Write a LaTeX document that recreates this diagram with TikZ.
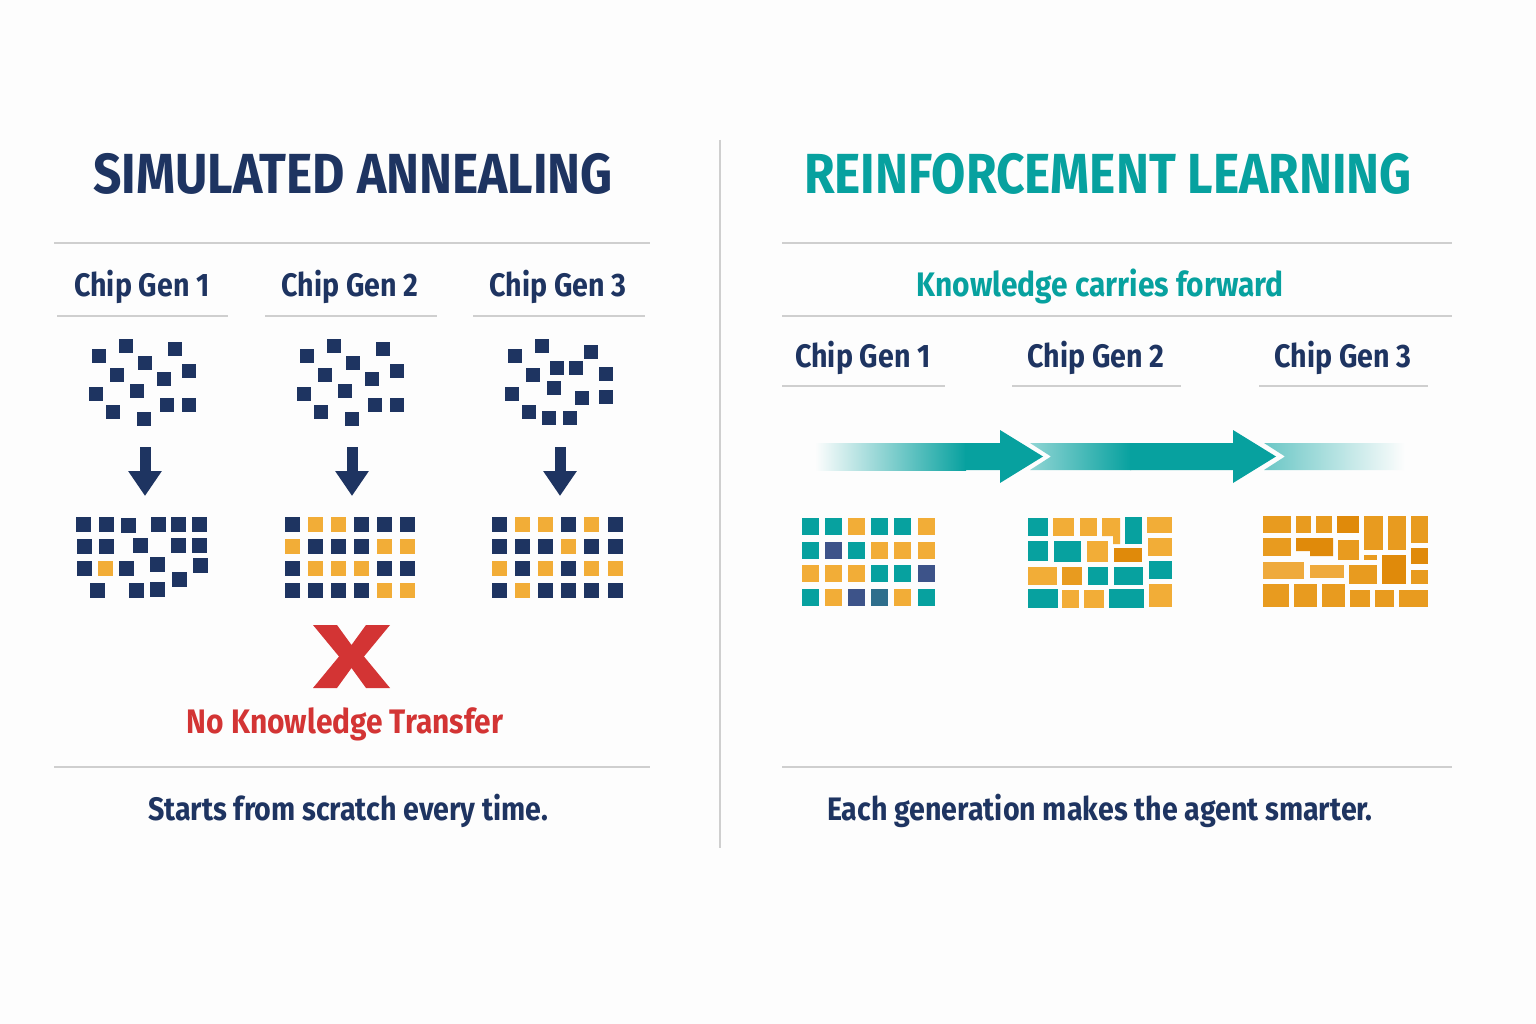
\documentclass[tikz,border=0pt]{standalone}
\usepackage{fontspec}
\setmainfont{Fira Sans}[FakeStretch=0.88]
\usetikzlibrary{arrows.meta}
\definecolor{ChipNavy}{HTML}{1E3461}
\definecolor{ChipGold}{HTML}{F2AD37}
\definecolor{ChipTeal}{HTML}{07A19F}
\definecolor{ChipSlate}{HTML}{3D5389}
\definecolor{ChipSteel}{HTML}{2E6E8C}
\definecolor{ChipOrange}{HTML}{E08A0A}
\definecolor{ChipAmber}{HTML}{E89B1F}
\definecolor{ChipSand}{HTML}{EFAA3C}
\definecolor{NoRed}{HTML}{D33434}
\definecolor{RuleGray}{HTML}{CFCFCF}
\definecolor{PageWhite}{HTML}{FDFDFD}

\begin{document}
\begin{tikzpicture}[x=1pt,y=-1pt,
  headline/.style={font=\bfseries\fontsize{56.5}{60}\selectfont,anchor=base},
  genlabel/.style={font=\bfseries\fontsize{32.5}{36}\selectfont,text=ChipNavy,anchor=base},
  notelabel/.style={font=\bfseries\fontsize{34}{36}\selectfont,anchor=base},
  caption/.style={font=\bfseries\fontsize{32.5}{35}\selectfont,text=ChipNavy,anchor=base},
  rule/.style={draw=RuleGray,line width=1.5pt},
  downarrow/.style={draw=ChipNavy,line width=11pt,-{Triangle[length=25pt,width=32pt]}}]
  \fill[PageWhite] (0,0) rectangle (1536,1024);
  \useasboundingbox (0,0) rectangle (1536,1024);

  % divider
  \draw[draw=RuleGray,line width=1.5pt] (720,140) -- (720,848);

  % simulated annealing side
  \node[headline,text=ChipNavy] (satitle) at (353,194) {SIMULATED ANNEALING};
  \draw[rule] (54,243) -- (650,243);
  \node[genlabel] (sagen1) at (142,296) {Chip Gen 1};
  \node[genlabel] (sagen2) at (350,296) {Chip Gen 2};
  \node[genlabel] (sagen3) at (558,296) {Chip Gen 3};
  \draw[rule] (57,316) -- (228,316);
  \draw[rule] (265,316) -- (437,316);
  \draw[rule] (473,316) -- (645,316);

  % random start, gens 1 and 2
  \foreach \dx in {0,208}
    \foreach \x/\y in {99/356,126/346,175/349,145/363,117/375,164/379,189/371,
                       96/394,137/391,167/405,189/405,113/412,144/419}
      \fill[ChipNavy] (\x+\dx-7,\y-7) rectangle ++(14,14);
  % random start, gen 3
  \foreach \x/\y in {515/356,542/346,591/352,533/375,557/368,576/368,606/374,
                     512/394,554/388,582/398,606/397,529/412,549/418,570/418}
    \fill[ChipNavy] (\x-7,\y-7) rectangle ++(14,14);

  \foreach \i/\x in {1/145,2/352,3/560}{
    \coordinate (sastart\i) at (\x,447);
    \coordinate (saend\i) at (\x,496);
    \draw[downarrow] (sastart\i) -- (saend\i);
  }

  % placements
  \foreach \x/\y/\c in {83/524/ChipNavy,106/524/ChipNavy,128/525/ChipNavy,158/524/ChipNavy,
      178/524/ChipNavy,199/524/ChipNavy,84/546/ChipNavy,106/546/ChipNavy,140/545/ChipNavy,
      178/545/ChipNavy,199/545/ChipNavy,84/568/ChipNavy,105/568/ChipGold,126/568/ChipNavy,
      157/564/ChipNavy,200/565/ChipNavy,97/590/ChipNavy,136/590/ChipNavy,157/589/ChipNavy,
      179/579/ChipNavy}
    \fill[\c] (\x-7.5,\y-7.5) rectangle ++(15,15);
  \foreach \y/\row in {524/{ChipNavy,ChipGold,ChipGold,ChipNavy,ChipNavy,ChipNavy},
                       546/{ChipGold,ChipNavy,ChipNavy,ChipNavy,ChipGold,ChipGold},
                       568/{ChipNavy,ChipGold,ChipGold,ChipGold,ChipNavy,ChipNavy},
                       590/{ChipNavy,ChipNavy,ChipNavy,ChipNavy,ChipGold,ChipGold}}
    \foreach \c [count=\k from 0] in \row
      \fill[\c] (292+23*\k-7.5,\y-7.5) rectangle ++(15,15);
  \foreach \y/\row in {524/{ChipNavy,ChipGold,ChipGold,ChipNavy,ChipGold,ChipNavy},
                       546/{ChipNavy,ChipNavy,ChipNavy,ChipGold,ChipNavy,ChipNavy},
                       568/{ChipGold,ChipNavy,ChipGold,ChipNavy,ChipGold,ChipGold},
                       590/{ChipNavy,ChipGold,ChipNavy,ChipNavy,ChipNavy,ChipNavy}}
    \foreach \c [count=\k from 0] in \row
      \fill[\c] (499+23.2*\k-7.5,\y-7.5) rectangle ++(15,15);

  % no transfer mark
  \fill[NoRed] (313,625) -- (337,625) -- (351.5,645) -- (366,625) -- (390,625) -- (364,656.5)
    -- (390,688) -- (366,688) -- (351.5,668) -- (337,688) -- (313,688) -- (339,656.5) -- cycle;
  \node[notelabel,text=NoRed] (notransfer) at (345,733) {No Knowledge Transfer};

  \draw[rule] (54,767) -- (650,767);
  \node[caption] (sacaption) at (348,820) {Starts from scratch every time.};

  % reinforcement learning side
  \node[headline,text=ChipTeal] (rltitle) at (1108,194) {REINFORCEMENT LEARNING};
  \draw[rule] (782,243) -- (1452,243);
  \node[notelabel,text=ChipTeal] (carry) at (1100,297) {Knowledge carries forward};
  \draw[rule] (782,316) -- (1452,316);
  \node[genlabel] (rlgen1) at (863,367) {Chip Gen 1};
  \node[genlabel] (rlgen2) at (1096,367) {Chip Gen 2};
  \node[genlabel] (rlgen3) at (1343,367) {Chip Gen 3};
  \draw[rule] (782,386) -- (945,386);
  \draw[rule] (1012,386) -- (1181,386);
  \draw[rule] (1259,386) -- (1428,386);

  % knowledge band
  \shade[left color=PageWhite,right color=ChipTeal] (815,443) rectangle (966,470);
  \fill[ChipTeal] (965,443) -- (1000,443) -- (1000,430) -- (1043,456.5) -- (1000,483)
    -- (1000,470) -- (965,470) -- cycle;
  \shade[left color=ChipTeal!45,right color=ChipTeal] (1030,443) -- (1131,443) -- (1131,470)
    -- (1030,470) -- (1051,456.5) -- cycle;
  \fill[ChipTeal] (1130,443) -- (1233,443) -- (1233,430) -- (1276,456.5) -- (1233,483)
    -- (1233,470) -- (1130,470) -- cycle;
  \shade[left color=ChipTeal!60,right color=PageWhite] (1264,443) -- (1405,443) -- (1405,470)
    -- (1264,470) -- (1285,456.5) -- cycle;

  % gen 1 placement
  \foreach \y/\row in {526/{ChipTeal,ChipTeal,ChipGold,ChipTeal,ChipTeal,ChipGold},
                       550/{ChipTeal,ChipSlate,ChipTeal,ChipGold,ChipGold,ChipGold},
                       573/{ChipGold,ChipGold,ChipGold,ChipTeal,ChipTeal,ChipSlate},
                       597/{ChipTeal,ChipGold,ChipSlate,ChipSteel,ChipGold,ChipTeal}}
    \foreach \c [count=\k from 0] in \row
      \fill[\c] (810+23.2*\k-8.5,\y-8.5) rectangle ++(17,17);

  % gen 2 placement
  \foreach \xa/\ya/\xb/\yb/\c in {1028/518/1048/536/ChipTeal,1053/518/1074/536/ChipGold,
      1080/518/1097/536/ChipGold,1125/517/1142/544/ChipTeal,1147/517/1172/533/ChipGold,
      1028/541/1048/561/ChipTeal,1054/541/1081/562/ChipTeal,1087/541/1108/562/ChipGold,
      1114/548/1142/562/ChipOrange,1148/538/1172/556/ChipGold,
      1028/567/1057/585/ChipGold,1062/567/1082/585/ChipAmber,1088/567/1108/585/ChipTeal,
      1114/567/1143/585/ChipTeal,1149/561/1172/579/ChipTeal,
      1028/589/1058/608/ChipTeal,1062/590/1079/608/ChipGold,1084/590/1104/608/ChipGold,
      1109/589/1144/608/ChipTeal,1149/584/1172/607/ChipGold}
    \fill[\c] (\xa,\ya) rectangle (\xb,\yb);
  \fill[ChipGold] (1102,518) -- (1120,518) -- (1120,544) -- (1113,544) -- (1113,536)
    -- (1102,536) -- cycle;

  % gen 3 placement
  \foreach \xa/\ya/\xb/\yb/\c in {1263/516/1291/533/ChipAmber,1296/516/1311/533/ChipAmber,
      1316/516/1332/533/ChipAmber,1337/516/1359/533/ChipOrange,1364/516/1383/550/ChipAmber,
      1388/516/1406/550/ChipAmber,1411/516/1428/543/ChipAmber,
      1263/538/1291/556/ChipAmber,1338/540/1359/560/ChipAmber,1364/555/1377/560/ChipAmber,
      1411/548/1428/564/ChipOrange,
      1263/562/1304/579/ChipSand,1310/565/1344/578/ChipSand,1349/565/1377/584/ChipAmber,
      1382/555/1406/584/ChipOrange,1411/570/1428/584/ChipAmber,
      1263/584/1289/607/ChipAmber,1294/584/1317/607/ChipAmber,1322/584/1345/607/ChipAmber,
      1350/590/1370/607/ChipAmber,1375/590/1394/607/ChipAmber,1399/590/1428/607/ChipAmber}
    \fill[\c] (\xa,\ya) rectangle (\xb,\yb);
  \fill[ChipOrange] (1296,538) -- (1333,538) -- (1333,556) -- (1310,556) -- (1310,551)
    -- (1296,551) -- cycle;

  \draw[rule] (782,767) -- (1452,767);
  \node[caption] (rlcaption) at (1100,820) {Each generation makes the agent smarter.};
\end{tikzpicture}
\end{document}
